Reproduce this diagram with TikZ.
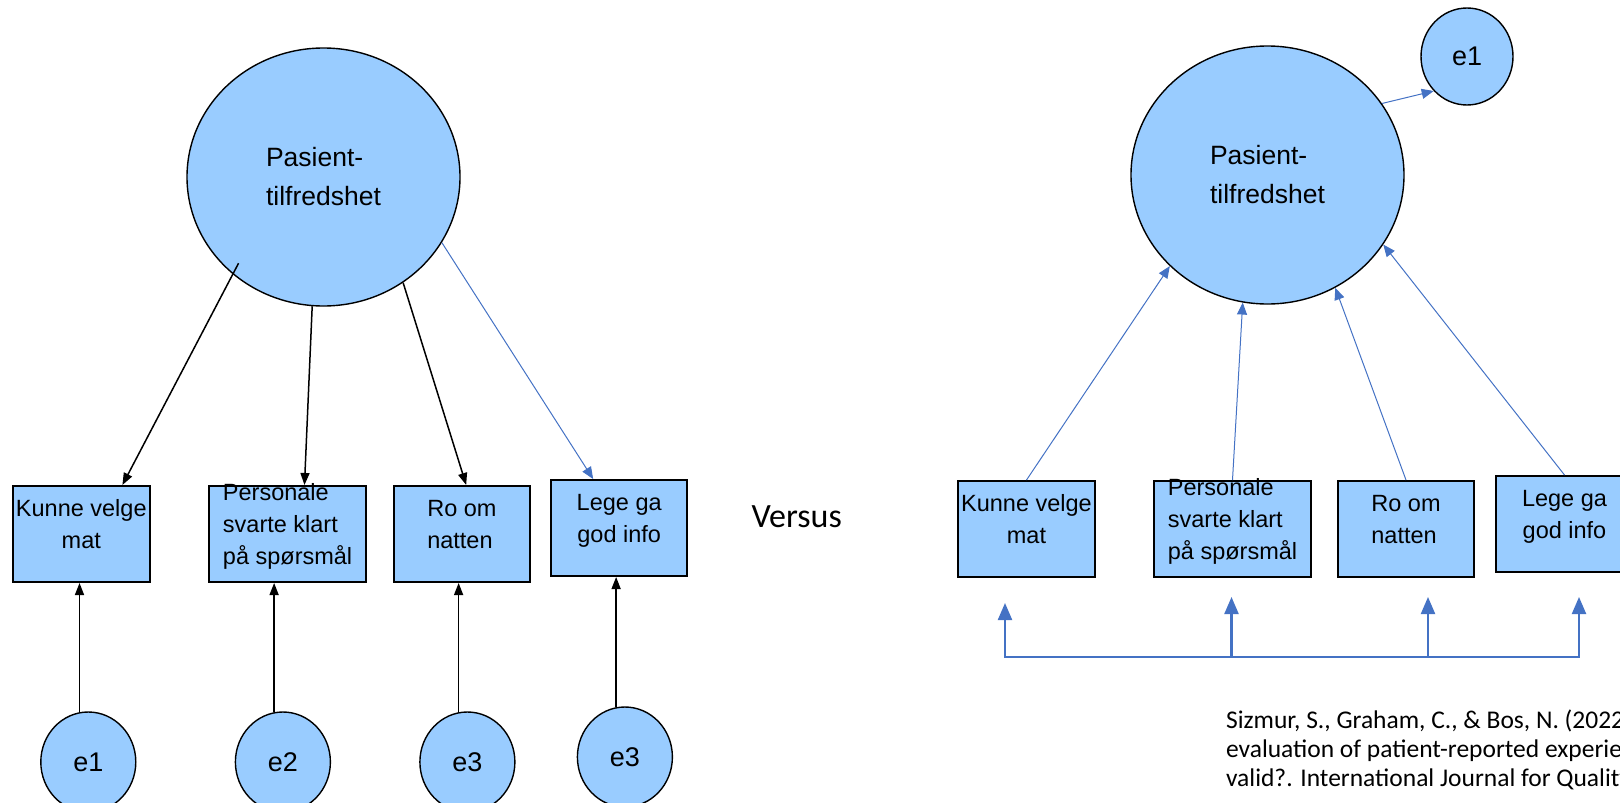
\documentclass[tikz,border=0pt]{standalone}
\usepackage{fontspec}
\setmainfont{Liberation Sans}
\newfontfamily\refsfont{Carlito}
\usetikzlibrary{arrows.meta,shapes.geometric}
\definecolor{fillblue}{HTML}{99CCFF}
\definecolor{lineblue}{HTML}{4472C4}
\newcommand{\lowstrut}{\rule[-20pt]{0pt}{20pt}}
\tikzset{
  latent/.style={ellipse,draw,line width=1.4pt,fill=fillblue,minimum width=273pt,minimum height=258pt,align=left,font=\fontsize{26.5}{39}\selectfont},
  residual/.style={ellipse,draw,line width=1.4pt,fill=fillblue,minimum width=95pt,minimum height=100pt,inner sep=0pt,font=\fontsize{27}{32}\selectfont},
  item/.style={rectangle,draw,line width=2pt,fill=fillblue,minimum width=137pt,minimum height=96pt,inner xsep=0pt,inner ysep=-4pt,font=\fontsize{23.5}{32}\selectfont},
  blackarrow/.style={-{Triangle[width=9pt,length=12pt]},line width=1.5pt},
  bluearrow/.style={-{Triangle[width=10pt,length=12pt]},line width=1pt,lineblue},
  fork/.style={line width=2.2pt,lineblue},
  forktip/.tip={Triangle[width=14pt,length=17pt]}
}
\begin{document}
\begin{tikzpicture}[x=1pt,y=-1pt]
  \useasboundingbox (0,0) rectangle (1620,803);
  \clip (0,0) rectangle (1620,803);
  \draw
    (323.5,177) node[latent] (L){Pasient-\\tilfredshet}
    (81.3,534) node[item,align=center] (L1){Kunne velge\\mat\lowstrut}
    (287.6,534) node[item,align=left,minimum width=157.5pt] (L2){Personale\\svarte klart\\på spørsmål\lowstrut}
    (461.9,534) node[item,align=left,minimum width=136pt] (L3){Ro om\\natten\lowstrut}
    (619.2,528) node[item,align=center,minimum width=136pt] (L4){Lege ga\\god info\lowstrut}
    (88.3,762) node[residual] (le1){e1}
    (282.9,762) node[residual] (le2){e2}
    (467.4,762) node[residual] (le3){e3}
    (624.9,757) node[residual] (le4){e3};
  \begin{scope}[blackarrow]
    \draw[shorten <=-12.5pt] (L.-133) to (L1.50);
    \draw (L.-95) to (L2.71);
    \draw (L.-53) to (L3.85);
    \draw (le1.100) to (le1.100 |- L1.south);
    \draw (le2.100) to (le2.100 |- L2.south);
    \draw (le3.100) to (le3.100 |- L3.south);
    \draw (le4.100) to (le4.100 |- L4.south);
  \end{scope}
  \draw[bluearrow] (L.-29) to (L4.118);

  \node[font=\refsfont\fontsize{34}{40}\selectfont,anchor=base west] (vs) at (748,527) {Versus};

  \draw
    (1267.5,175) node[latent] (R){Pasient-\\tilfredshet}
    (1467,56.5) node[residual,minimum width=92pt,minimum height=97pt] (re1){e1}
    (1026.5,529) node[item,align=center] (R1){Kunne velge\\mat\lowstrut}
    (1232.5,529) node[item,align=left,minimum width=157pt] (R2){Personale\\svarte klart\\på spørsmål\lowstrut}
    (1406,529) node[item,align=left,minimum width=136pt] (R3){Ro om\\natten\lowstrut}
    (1564.5,524) node[item,align=center] (R4){Lege ga\\god info\lowstrut};
  \begin{scope}[bluearrow]
    \draw (R.32) to (re1.-134);
    \draw (R1.north) to (R.-137);
    \draw (R2.north) to (R.-101);
    \draw (R3.north) to (R.-59);
    \draw (R4.north) to (R.-31);
  \end{scope}

  \coordinate (f1) at (1005,657);
  \coordinate (f2) at (1231.5,657);
  \coordinate (f3) at (1428,657);
  \coordinate (f4) at (1579,657);
  \coordinate (a1) at (1005,603);
  \coordinate (a2) at (1231.5,597);
  \coordinate (a3) at (1428,597);
  \coordinate (a4) at (1579,597);
  \draw[fork,{forktip}-{forktip}] (a1) -- (f1) -- (f4) -- (a4);
  \draw[fork,-{forktip}] (f2) -- (a2);
  \draw[fork,-{forktip}] (f3) -- (a3);

  \node[font=\refsfont\fontsize{25.5}{29}\selectfont,align=left,anchor=base west] (ref) at (1222.5,786)
    {Sizmur, S., Graham, C., \& Bos, N. (2022).\\evaluation of patient-reported experience\\valid?. International Journal for Quality};
\end{tikzpicture}
\end{document}
